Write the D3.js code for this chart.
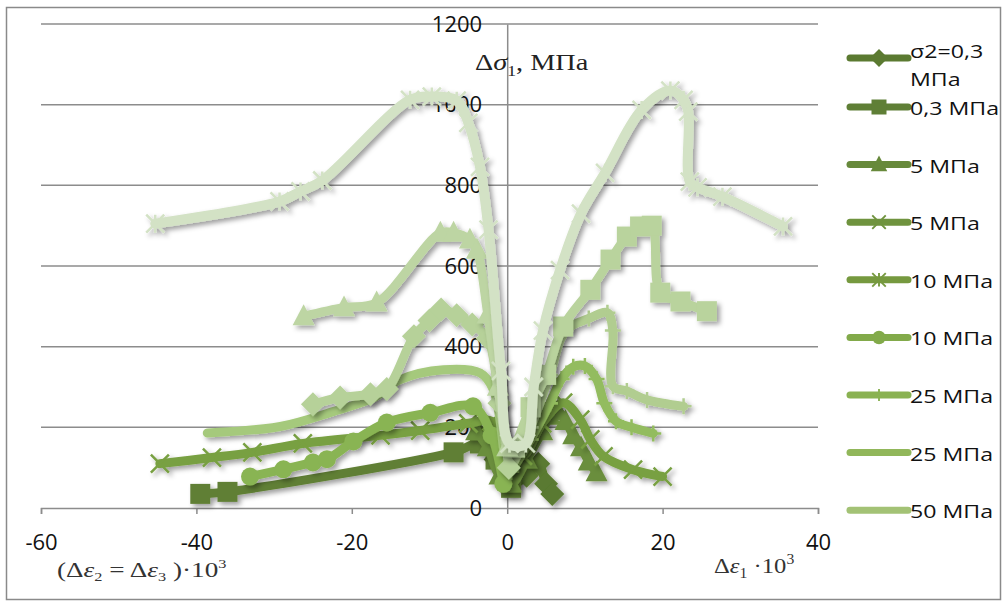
<!DOCTYPE html>
<html>
<head>
<meta charset="utf-8">
<script src="https://cdn.jsdelivr.net/npm/d3@7"></script>
<style>
  body { margin: 0; background: #fff; }
  text { font-family: "Open Sans", sans-serif; }
</style>
</head>
<body>
<svg id="chart" width="1007" height="607"></svg>
<script>
// axis ticks
var xTicks = [-60, -40, -20, 0, 20, 40];
var yTicks = [0, 200, 400, 600, 800, 1000, 1200];

// legend
var legendLabels = ["σ2=0,3 МПа", "0,3 МПа", "5 МПа", "5 МПа", "10 МПа", "10 МПа", "25 МПа", "25 МПа", "50 МПа"];
var legendMarkers = ["diamond", "square", "triangle", "x", "star", "circle", "plus", "none", "none"];

// series (strain x10^3, stress MPa)
var darkDiamondX = [-3.5, -1.5, 0.5, 2.5, 4, 5, 5.8];
var darkDiamondY = [180, 120, 60, 80, 110, 60, 35];

var darkSquareX = [-39.5, -36, -6.9, -3.5, -1.5, 0.5];
var darkSquareY = [35, 40, 138, 160, 120, 50];

var darkTriangleX = [-4, -2.5, -1, 0.5, 2.5, 4.5, 5.5, 6.5, 7.5, 8.5, 9.5, 10.5, 11.5];
var darkTriangleY = [190, 150, 80, 60, 120, 190, 228, 240, 215, 180, 150, 115, 88];

var crossX = [-44.7, -38, -32.8, -26.3, -16.3, -11.2, -5, -2, 0, 2, 4.5, 7.2, 9.4, 10.7, 12.4, 16.2, 20];
var crossY = [110, 125, 138, 160, 180, 192, 210, 215, 150, 130, 210, 261, 219, 170, 128, 95, 78];

var circleX = [-33.1, -28.8, -25, -23.2, -19.8, -15.5, -9.9, -4.4, -2, -0.5];
var circleY = [78, 96, 113, 121, 165, 212, 236, 252, 180, 60];

var plusX = [0.5, 3, 5.5, 7, 8.5, 10, 11.5, 12.5, 14, 16, 18.8];
var plusY = [90, 170, 260, 320, 350, 352, 320, 260, 215, 200, 185];

var plainX = [-38.6, -29.2, -22.4, -17, -13.8, -8.2, -3.5, -1.8, -0.5];
var plainY = [186, 202, 239, 275, 318, 343, 335, 294, 150];

var lightPlusX = [0.5, 3, 5.5, 7.5, 10.5, 12.9, 13.6, 13.6, 15.4, 18, 22.7];
var lightPlusY = [100, 200, 330, 440, 470, 484, 440, 302, 290, 268, 252];

var lightDiamondX = [-25, -21.5, -17.6, -15.5, -12, -10, -8.5, -6.5, -4.5, -2.5, -1, 0.2];
var lightDiamondY = [257, 274, 282, 295, 426, 465, 492, 478, 455, 420, 260, 100];

var lightSquareX = [1, 3, 5, 7.2, 10.7, 13.3, 15.4, 17.1, 18.6, 19.7, 22.3, 25.7];
var lightSquareY = [150, 250, 330, 450, 541, 616, 673, 698, 700, 534, 512, 488];

var lightTriangleX = [-26.2, -21, -16.8, -8.6, -6.9, -4.8, -3.9, -2.5, -1.2, 0];
var lightTriangleY = [475, 497, 509, 682, 682, 665, 640, 480, 300, 150];

var starX = [-45.3, -29.3, -26.6, -23.8, -12.5, -9.7, -6.5, -5, -3.5, -2.4, -0.8, 0.3, 2.4, 3.4, 4.6, 6.8, 9.5, 12.6, 17.3, 21, 22.7, 23.3, 23.5, 24.5, 27.7, 35.5];
var starY = [705, 760, 785, 812, 1012, 1020, 1010, 955, 846, 690, 340, 160, 160, 300, 440, 590, 730, 831, 987, 1035, 1012, 983, 809, 795, 772, 698];

// drawing order: dark first, lightest on top
var series = [
  { x: darkDiamondX, y: darkDiamondY, marker: "diamond", color: "#5a7a30" },
  { x: darkSquareX, y: darkSquareY, marker: "square", color: "#617f36" },
  { x: darkTriangleX, y: darkTriangleY, marker: "triangle", color: "#6b8e3e" },
  { x: crossX, y: crossY, marker: "x", color: "#78a042" },
  { x: circleX, y: circleY, marker: "circle", color: "#89b453" },
  { x: plusX, y: plusY, marker: "plus", color: "#93bc5f" },
  { x: plainX, y: plainY, marker: "none", color: "#a5c97c" },
  { x: lightPlusX, y: lightPlusY, marker: "plus", color: "#b1cd90" },
  { x: lightDiamondX, y: lightDiamondY, marker: "diamond", color: "#b6d199" },
  { x: lightSquareX, y: lightSquareY, marker: "square", color: "#b9d39d" },
  { x: lightTriangleX, y: lightTriangleY, marker: "triangle", color: "#bdd5a3" },
  { x: starX, y: starY, marker: "star", color: "#d3e2c5" }
];
var legendColors = ["#5b7a31", "#5f7f36", "#67893b", "#6f933e", "#76993f", "#82aa4a", "#8ab252", "#91b75a", "#a3c275"];

var svg = d3.select("#chart");

var margin = { top: 24, right: 189, bottom: 99, left: 41 },
  width = 1007,
  height = 607;

var x = d3.scaleLinear().domain([-60, 40]).range([margin.left, width - margin.right]);
var y = d3.scaleLinear().domain([0, 1200]).range([height - margin.bottom, margin.top]);

var defs = svg.append("defs");
defs.append("filter")
  .attr("id", "shadow")
  .attr("x", "-20%").attr("y", "-20%")
  .attr("width", "140%").attr("height", "140%")
  .append("feDropShadow")
  .attr("dx", 3).attr("dy", 3)
  .attr("stdDeviation", 2.5)
  .attr("flood-color", "#000")
  .attr("flood-opacity", 0.38);

// outer frame
svg.append("rect")
  .attr("x", 6.5).attr("y", 7.5)
  .attr("width", 994).attr("height", 592)
  .attr("fill", "none")
  .attr("stroke", "#8a8a8a")
  .attr("stroke-width", 1.5);

// gridlines
svg.append("g")
  .attr("class", "grid")
  .selectAll("line")
  .data(yTicks.filter(function(d) { return d > 0; }))
  .enter().append("line")
  .attr("x1", x(-60)).attr("x2", x(40))
  .attr("y1", function(d) { return y(d); })
  .attr("y2", function(d) { return y(d); })
  .attr("stroke", "#8c8c8c")
  .attr("stroke-width", 1.5);

function plain(d) { return String(d); }

// x axis at y=0
var xAxis = svg.append("g")
  .attr("transform", "translate(0," + y(0) + ")")
  .call(d3.axisBottom(x).tickValues(xTicks).tickFormat(plain).tickSize(6).tickPadding(29));
xAxis.select(".domain").attr("stroke", "#8c8c8c").attr("stroke-width", 1.5);
xAxis.selectAll(".tick line").attr("stroke", "#8c8c8c").attr("stroke-width", 1.5);
xAxis.selectAll(".tick text")
  .attr("font-size", 22)
  .attr("font-family", "Open Sans")
  .attr("fill", "#111")
  .attr("dy", "0.32em");

// y axis at x=0
var yAxis = svg.append("g")
  .attr("transform", "translate(" + x(0) + ",0)")
  .call(d3.axisLeft(y).tickValues(yTicks).tickFormat(plain).tickSize(0).tickPadding(25));
yAxis.select(".domain").attr("stroke", "#8c8c8c").attr("stroke-width", 1.5);
yAxis.selectAll(".tick text")
  .attr("font-size", 22)
  .attr("font-family", "Open Sans")
  .attr("fill", "#111");

// marker paths
function markerPath(type) {
  var s;
  switch (type) {
    case "diamond": s = 12; return "M0," + (-s) + "L" + s + ",0L0," + s + "L" + (-s) + ",0Z";
    case "square": s = 10; return "M" + (-s) + "," + (-s) + "h" + (2 * s) + "v" + (2 * s) + "h" + (-2 * s) + "Z";
    case "triangle": s = 11; return "M0," + (-s * 1.1) + "L" + s + "," + (s * 0.8) + "L" + (-s) + "," + (s * 0.8) + "Z";
    case "circle": s = 9; return "M" + s + ",0A" + s + "," + s + " 0 1,1 " + (-s) + ",0A" + s + "," + s + " 0 1,1 " + s + ",0Z";
    case "x": s = 9; return "M" + (-s) + "," + (-s) + "L" + s + "," + s + "M" + (-s) + "," + s + "L" + s + "," + (-s);
    case "star": s = 9; return "M" + (-s) + "," + (-s) + "L" + s + "," + s + "M" + (-s) + "," + s + "L" + s + "," + (-s) + "M0," + (-s) + "V" + s;
    case "plus": s = 8; return "M" + (-s) + ",0H" + s + "M0," + (-s) + "V" + s;
  }
  return "";
}
function isOpen(type) {
  return type === "x" || type === "star" || type === "plus";
}

var line = d3.line()
  .curve(d3.curveCatmullRom.alpha(0.5))
  .x(function(d) { return x(d[0]); })
  .y(function(d) { return y(d[1]); });

var lines = svg.append("g").attr("class", "lines");
series.forEach(function(s) {
  var pts = s.x.map(function(v, i) { return [v, s.y[i]]; });
  var g = lines.append("g").attr("filter", "url(#shadow)");
  g.append("path")
    .datum(pts)
    .attr("d", line)
    .attr("fill", "none")
    .attr("stroke", s.color)
    .attr("stroke-width", s.marker === "star" ? 10 : 9)
    .attr("stroke-linejoin", "round")
    .attr("stroke-linecap", "round");
  if (s.marker !== "none") {
    g.selectAll(".mk")
      .data(pts).enter()
      .append("path")
      .attr("class", "mk")
      .attr("transform", function(d) { return "translate(" + x(d[0]) + "," + y(d[1]) + ")"; })
      .attr("d", markerPath(s.marker))
      .attr("fill", isOpen(s.marker) ? "none" : s.color)
      .attr("stroke", s.color)
      .attr("stroke-width", isOpen(s.marker) ? 2.5 : 0);
  }
});

// axis titles (the source image is a little stretched sideways)
var yTitle = svg.append("text")
  .attr("transform", "translate(475,70) scale(1.18,1)")
  .style("font-family", "Liberation Serif")
  .attr("font-size", 24)
  .attr("fill", "#222");
yTitle.append("tspan").text("Δ");
yTitle.append("tspan").attr("font-style", "italic").text("σ");
yTitle.append("tspan").attr("font-size", 15).attr("dy", 6).text("1");
yTitle.append("tspan").attr("dy", -6).text(", МПа");

var xTitleL = svg.append("text")
  .attr("transform", "translate(57,577) scale(1.36,1)")
  .style("font-family", "Liberation Serif")
  .attr("font-size", 20)
  .attr("fill", "#333");
xTitleL.append("tspan").text("(Δ");
xTitleL.append("tspan").attr("font-style", "italic").text("ε");
xTitleL.append("tspan").attr("font-size", 12).attr("dy", 4).text("2");
xTitleL.append("tspan").attr("dy", -4).text("  = Δ");
xTitleL.append("tspan").attr("font-style", "italic").text("ε");
xTitleL.append("tspan").attr("font-size", 12).attr("dy", 4).text("3");
xTitleL.append("tspan").attr("dy", -4).text(" )·10");
xTitleL.append("tspan").attr("font-size", 12).attr("dy", -9).text("3");

var xTitleR = svg.append("text")
  .attr("transform", "translate(714,573) scale(1.12,1)")
  .style("font-family", "Liberation Serif")
  .attr("font-size", 22)
  .attr("fill", "#333");
xTitleR.append("tspan").text("Δ");
xTitleR.append("tspan").attr("font-style", "italic").text("ε");
xTitleR.append("tspan").attr("font-size", 14).attr("dy", 5).text("1");
xTitleR.append("tspan").attr("dy", -5).text(" ·10");
xTitleR.append("tspan").attr("font-size", 14).attr("dy", -9).text("3");

// legend
var legendY = legendLabels.map(function(d, i) { return i === 0 ? 58 : 107 + (i - 1) * 57.6; });
var legend = svg.append("g").attr("class", "legend");
legendLabels.forEach(function(label, i) {
  var g = legend.append("g").attr("transform", "translate(850," + legendY[i] + ")");
  g.append("line")
    .attr("x1", 0).attr("x2", 58)
    .attr("stroke", legendColors[i])
    .attr("stroke-width", 7)
    .attr("stroke-linecap", "round");
  if (legendMarkers[i] !== "none") {
    g.append("path")
      .attr("transform", "translate(29,0) scale(0.75)")
      .attr("d", markerPath(legendMarkers[i]))
      .attr("fill", isOpen(legendMarkers[i]) ? "none" : legendColors[i])
      .attr("stroke", legendColors[i])
      .attr("stroke-width", isOpen(legendMarkers[i]) ? 2.5 : 0);
  }
  var t = g.append("text")
    .attr("transform", "translate(60," + (i === 0 ? 0 : 8) + ") scale(1.22,1)")
    .attr("font-size", 19)
    .attr("fill", "#111");
  if (i === 0) {
    var parts = label.split(" ");
    t.append("tspan").attr("x", 0).text(parts[0]);
    t.append("tspan").attr("x", 0).attr("dy", 28).text(parts[1]);
  } else {
    t.text(label);
  }
});
</script>
</body>
</html>
